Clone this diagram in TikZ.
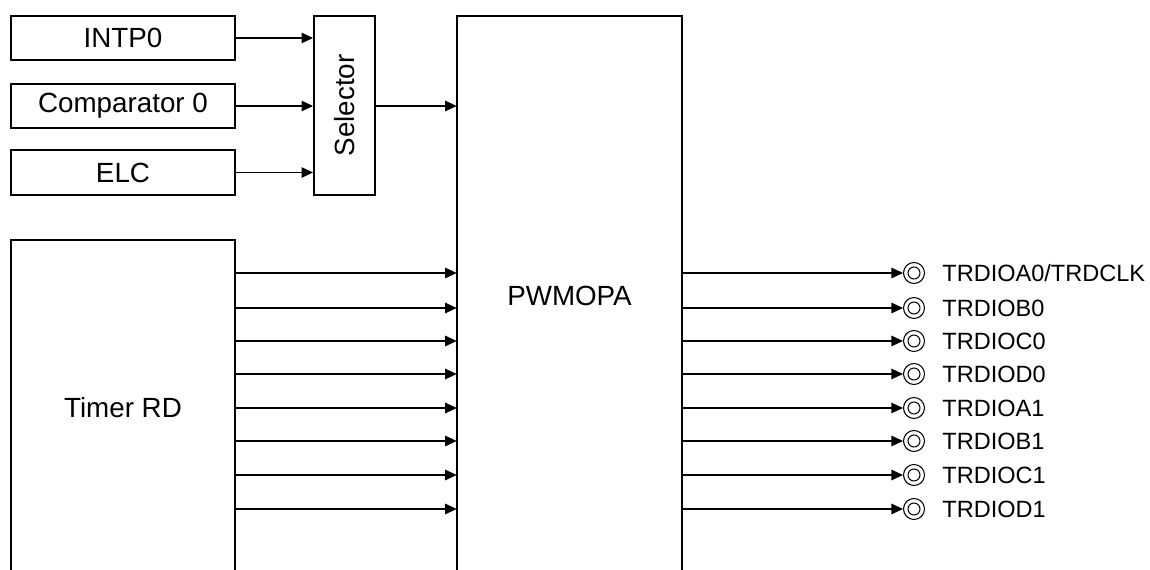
\documentclass[tikz,border=0pt]{standalone}
\usepackage{fontspec}
\setmainfont{Liberation Sans}
\usetikzlibrary{arrows.meta,positioning}

\begin{document}
\begin{tikzpicture}[x=0.02cm, y=-0.02cm,
    blk/.style={rectangle, draw, line width=1.1pt, inner sep=0pt, minimum width=#1, font=\fontsize{15.8}{19}\selectfont},
    blk/.default=4.48cm,
    openblk/.style={rectangle, inner sep=0pt, minimum width=#1, font=\fontsize{15.8}{19}\selectfont},
    openblk/.default=4.48cm,
    edge/.style={line width=1.1pt},
    arr/.style={-{Triangle[length=0.23cm, width=0.21cm]}, line width=0.6pt},
    pinc/.style={circle, draw, line width=0.6pt, minimum size=0.42cm, inner sep=0pt,
        path picture={\draw[line width=0.6pt] (path picture bounding box.center) circle (0.12cm);}},
    pinlbl/.style={inner sep=0pt, font=\fontsize{13.4}{16}\selectfont}
]
\useasboundingbox (0,0) rectangle (1150,570);

% Trigger sources
\node[blk, minimum height=0.88cm] (intp) at (123,38) {INTP0};
\node[blk, minimum height=0.88cm] (comp) at (123,106) {Comparator 0};
\node[blk, minimum height=0.9cm] (elc) at (123,172.5) {ELC};

% Selector
\node[blk=1.22cm, minimum height=3.58cm] (sel) at (344.5,105.5) {};
\node[rotate=90, font=\fontsize{15.8}{19}\selectfont] (seltxt) at (sel) {Selector};

% Open blocks (cut at the bottom)
\node[openblk, minimum height=6.7cm] (timer) at (123,407.5) {Timer RD};
\node[openblk=4.5cm, minimum height=11.18cm] (pwm) at (569.5,295.5) {PWMOPA};
\draw[edge] (timer.south west) |- (timer.north east) -- (timer.south east);
\draw[edge] (pwm.south west) |- (pwm.north east) -- (pwm.south east);

% Pins
\node[pinc] (pA0) at (914,273) {};
\node[pinc] (pB0) at (914,308) {};
\node[pinc] (pC0) at (914,341) {};
\node[pinc] (pD0) at (914,374) {};
\node[pinc] (pA1) at (914,408) {};
\node[pinc] (pB1) at (914,441) {};
\node[pinc] (pC1) at (914,475) {};
\node[pinc] (pD1) at (914,509) {};
\node[pinlbl, right=0.34cm of pA0] (lA0) {TRDIOA0/TRDCLK};
\node[pinlbl, right=0.34cm of pB0] (lB0) {TRDIOB0};
\node[pinlbl, right=0.34cm of pC0] (lC0) {TRDIOC0};
\node[pinlbl, right=0.34cm of pD0] (lD0) {TRDIOD0};
\node[pinlbl, right=0.34cm of pA1] (lA1) {TRDIOA1};
\node[pinlbl, right=0.34cm of pB1] (lB1) {TRDIOB1};
\node[pinlbl, right=0.34cm of pC1] (lC1) {TRDIOC1};
\node[pinlbl, right=0.34cm of pD1] (lD1) {TRDIOD1};

% Arrows into the selector
\draw[arr] (intp) -- (sel.west |- intp);
\draw[arr] (comp) -- (sel.west |- comp);
\draw[arr] (elc) -- (sel.west |- elc);
\draw[arr] (sel.east |- comp) -- (pwm.west |- comp);

% Timer RD -> PWMOPA -> pins
\foreach \p in {pA0,pB0,pC0,pD0,pA1,pB1,pC1,pD1}{
    \draw[arr] (timer.east |- \p) -- (pwm.west |- \p);
    \draw[arr] (pwm.east |- \p) -- (\p);
}

\end{tikzpicture}
\end{document}
